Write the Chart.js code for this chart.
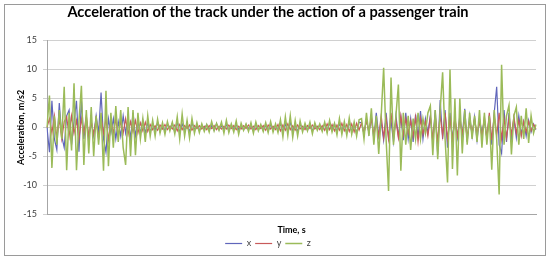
<!DOCTYPE html>
<html>
<head>
<meta charset="utf-8">
<script src="https://cdn.jsdelivr.net/npm/chart.js@4/dist/chart.umd.min.js"></script>
<style>
  html, body { margin: 0; padding: 0; background: #fff; }
  #wrap { position: relative; width: 550px; height: 261px; }
  #frame {
    position: absolute; left: 4px; top: 4px; width: 540px; height: 250px;
    border: 1px solid #9a9a9a; pointer-events: none;
  }
</style>
</head>
<body>
<div id="wrap">
  <canvas id="myChart" width="550" height="261"></canvas>
  <div id="frame"></div>
</div>
<script>
// acceleration samples (m/s2)
const xValues = [
  0, -4.3, 4.6, -2, -3.9, 4.2, -1.5, -3.5, 2, 3, -3, 1, 4.6, -4.2, 4.6, -2, 1.5, -2, 1, -1.5,
  2, -1, 6, -2, -4.3, 1.5, -1, 1.5, -2, 1, -1.5, 2, -1, 1.5, -2, 2.5, -1.5, 1, -1, 1.2,
  -1, 0.8, -0.8,
  0.6, -0.5, 0.8, -0.7, 0.4, -0.6, 0.5, -0.3, 0.7, -0.8,
  1, -0.9, 0.6, -0.5, 0.4, -0.7, 0.8, -0.4, 0.3, -0.5,
  0.4, -0.3, 0.5, -0.4, 0.3, -0.5, 0.6, -0.4, 0.3, -0.3,
  0.5, -0.6, 0.4, -0.3, 0.5, -0.4, 0.3, -0.4, 0.5, -0.3,
  0.4, -0.5, 0.6, -0.4, 0.3, -0.5, 0.4, -0.6, 0.5, -0.4,
  0.3, -0.5, 0.7, -0.8, 0.6, -0.7, 0.9, -0.6, 0.5, -0.7,
  0.6, -0.4, 0.3, -0.5, 0.4, -0.6, 0.5, -0.3, 0.4, -0.5,
  0.6, -0.7, 0.8, -0.5, 0.6, -0.8, 0.7, -0.6, 0.5, -0.9,
  1, -0.8, 0.6, -1, 0.9,
  0.8, -1.2, 1.5, -1, 1.8, -2, 2.5, -1.5, 1, -2.2,
  2.5, -1.8, 1.2, -2.5, 2, -1.5, 1.8, -2.2, 2.5, -2,
  1.5, -2.5, 2.2, -1.8, 2.8, -2, 1.5, -1, 2, -2.5,
  3, -4.7, 4.7, -2, 3, -3.5, 2.5, -2, 1.5, -1.8,
  2, -1.5, 3.2, -2.5, 2, -1.5, 1.8, -2.2, 1.5, -1,
  1.2, -1.8, 2, -3, 2.5, 7, -3, -4.5, 3, -2.5,
  2.5, -2, 1.5, -1.8, 2, -1.2, 1, -1.5, 1.2, -0.8,
  0.6, -0.4
];
const yValues = [
  0, 1.5, -1, 2, -1.8, 1.5, -2, 1, 1.8, -1.5, 2, -1, 1.2, -2, 1.5, -1, 2, -1.5, 1, -1.2,
  1.5, -2, 1.8, -1, 1.5, -2.2, 1.2, -1, 1.5, -1.8, 1.2, -1, 1.5, -1.2, 1, -0.8, 1.2, -1, 0.8, -0.6,
  0.9, -0.7, 0.5,
  -0.4, 0.3, -0.5, 0.4, -0.3, 0.5, -0.4, 0.2, -0.3, 0.4,
  -0.6, 0.5, -0.4, 0.3, -0.2, 0.4, -0.5, 0.3, -0.2, 0.3,
  -0.3, 0.2, -0.4, 0.3, -0.2, 0.3, -0.4, 0.2, -0.3, 0.2,
  -0.3, 0.4, -0.2, 0.3, -0.4, 0.2, -0.3, 0.3, -0.2, 0.4,
  -0.3, 0.2, -0.4, 0.3, -0.2, 0.3, -0.5, 0.4, -0.3, 0.2,
  -0.4, 0.5, -0.6, 0.4, -0.5, 0.6, -0.4, 0.3, -0.5, 0.4,
  -0.3, 0.2, -0.4, 0.3, -0.2, 0.4, -0.3, 0.2, -0.4, 0.3,
  -0.5, 0.6, -0.4, 0.5, -0.6, 0.4, -0.5, 0.7, -0.6, 0.5,
  -0.7, 0.6, -0.8, 0.7, -0.5,
  0.8, -1, 1.2, -0.8, 1.5, -1.2, 1, -1.5, 2, -1.8,
  1.5, -2, 2.5, -1.5, 1.2, -1.8, 2, -1.2, 1.5, -1,
  1.2, -1.5, 1.8, -2.5, 1.5, -1.2, 1, -1.5, 1.8, -2,
  2, -2.5, 2.2, -1.5, 2.5, -2, 1.5, -2.2, 1.8, -1.5,
  1.2, -1, 1.5, -1.8, 1.2, -1, 1.5, -1.2, 1, -1.5,
  1.8, -2, 2.5, -2.2, 2, -1.5, 2.5, -2, 1.5, -1.8,
  1.5, -1.2, 1.8, -1, 1.2, -1.5, 1, -0.8, 1, -0.6,
  0.5, -0.3
];
const zValues = [
  0, 5.5, -7, 2, -3, 3, -2, 7, -7.4, 2.5, -4, 7.6, -7.4, 1, 7.2, -6.5, 3, -4.5, 3.5, -5,
  2, -3, 2.5, -7.5, 6.3, -6.7, 2.5, -3.5, 3.7, -2.5, 3, -3.5, -6.5, 3.5, -5, 3, -4.8, 2.5, -2, 1.5,
  -2.5, 2, -1.5,
  1.2, -1.5, 1.4, -1, 0.8, -1.2, 1, -0.6, 0.9, -1.1,
  1.8, -2, 2.3, -1.5, 1.2, -1.8, 1.5, -1, 0.8, -0.9,
  0.6, -0.7, 0.5, -0.8, 1, -0.6, 0.7, -0.5, 0.9, -1,
  1.2, -0.9, 0.6, -0.8, 1.1, -1.2, 0.7, -0.5, 0.6, -0.7,
  0.8, -1, 0.9, -0.6, 0.5, -0.7, 0.8, -0.9, 1, -0.8,
  0.6, -0.9, 1.3, -1.6, 1.8, -1.4, 2, -1.7, 1.2, -1.5,
  1.1, -0.8, 0.7, -0.6, 0.9, -1.1, 0.8, -0.5, 0.6, -0.7,
  0.9, -1, 1.2, -0.8, 0.7, -1.3, 1.5, -1.2, 1, -1.4,
  1.6, -1.2, 0.9, -1.5, 1.3,
  1.5, -2, 2.5, -1.5, 3.3, -3, 2, -4.6, 2, 10.3,
  -2, -11, 8.6, -3, 2, 7.4, -7.5, 2.5, -3, 2,
  -3.9, 1.5, -2, 2.5, -2, 1.5, -1, 2.5, 3.7, -4.8,
  3, -5.5, 3, 9.5, -2, -9.5, 10, -7.2, 5, -8.3,
  5, -4.5, 3, -3, 2.5, -2, 2, -2.5, 3, -3.5,
  2.5, -3, 2, -7.3, 3, -2, -11.6, 10.8, -3, 2,
  3.8, -4.7, 2, 3.5, -3, 2, -2, 3.3, -2.7, 2,
  -1, 0.5
];
const times = zValues.map((v, i) => i);
const yTicks = [-15, -10, -5, 0, 5, 10, 15];

const txt = '#404040';
const ctx = document.getElementById('myChart').getContext('2d');
const myChart = new Chart(ctx, {
  type: 'line',
  data: {
    labels: times,
    datasets: [{
      label: 'x',
      data: xValues,
      borderColor: '#6066bb',
      borderWidth: 1.2,
      order: 2,
    }, {
      label: 'y',
      data: yValues,
      borderColor: '#c85a5a',
      borderWidth: 1.2,
      order: 1,
    }, {
      label: 'z',
      data: zValues,
      borderColor: '#9bbb59',
      borderWidth: 1.5,
      order: 0,
    }]
  },
  options: {
    responsive: false,
    animation: false,
    elements: { point: { radius: 0 }, line: { tension: 0 } },
    layout: { padding: { left: 0, right: 14, top: 0, bottom: 3 } },
    plugins: {
      title: {
        display: true,
        text: 'Acceleration of the track under the action of a passenger train',
        color: '#000',
        font: { family: 'Lato', size: 14.6, weight: 'bold' },
        padding: { top: 4, bottom: 19 },
      },
      legend: {
        position: 'bottom',
        labels: {
          usePointStyle: true,
          pointStyle: 'line',
          pointStyleWidth: 17,
          boxHeight: 9,
          padding: 4,
          color: txt,
          font: { family: 'Lato', size: 9 },
          sort: (a, b) => a.datasetIndex - b.datasetIndex,
        }
      },
      tooltip: { enabled: false },
    },
    scales: {
      x: {
        grid: { display: false },
        border: { color: '#a6a6a6' },
        ticks: { display: false },
        title: {
          display: true,
          text: 'Time, s',
          color: '#000',
          font: { family: 'Lato', size: 9, weight: 'bold' },
          padding: { top: 2, bottom: 0 },
        },
      },
      y: {
        min: -15,
        max: 15,
        afterBuildTicks: (axis) => { axis.ticks = yTicks.map(v => ({ value: v })); },
        afterFit: (axis) => { axis.width = 47; },
        grid: { color: '#d0d0d0', tickLength: 4 },
        border: { color: '#a6a6a6' },
        ticks: {
          padding: 6,
          color: txt,
          font: { family: 'Lato', size: 9 },
        },
        title: {
          display: true,
          text: 'Acceleration, m/s2',
          color: '#000',
          font: { family: 'Lato', size: 9, weight: 'bold' },
          padding: { top: 16, bottom: 0 },
        },
      }
    }
  }
});
</script>
</body>
</html>
